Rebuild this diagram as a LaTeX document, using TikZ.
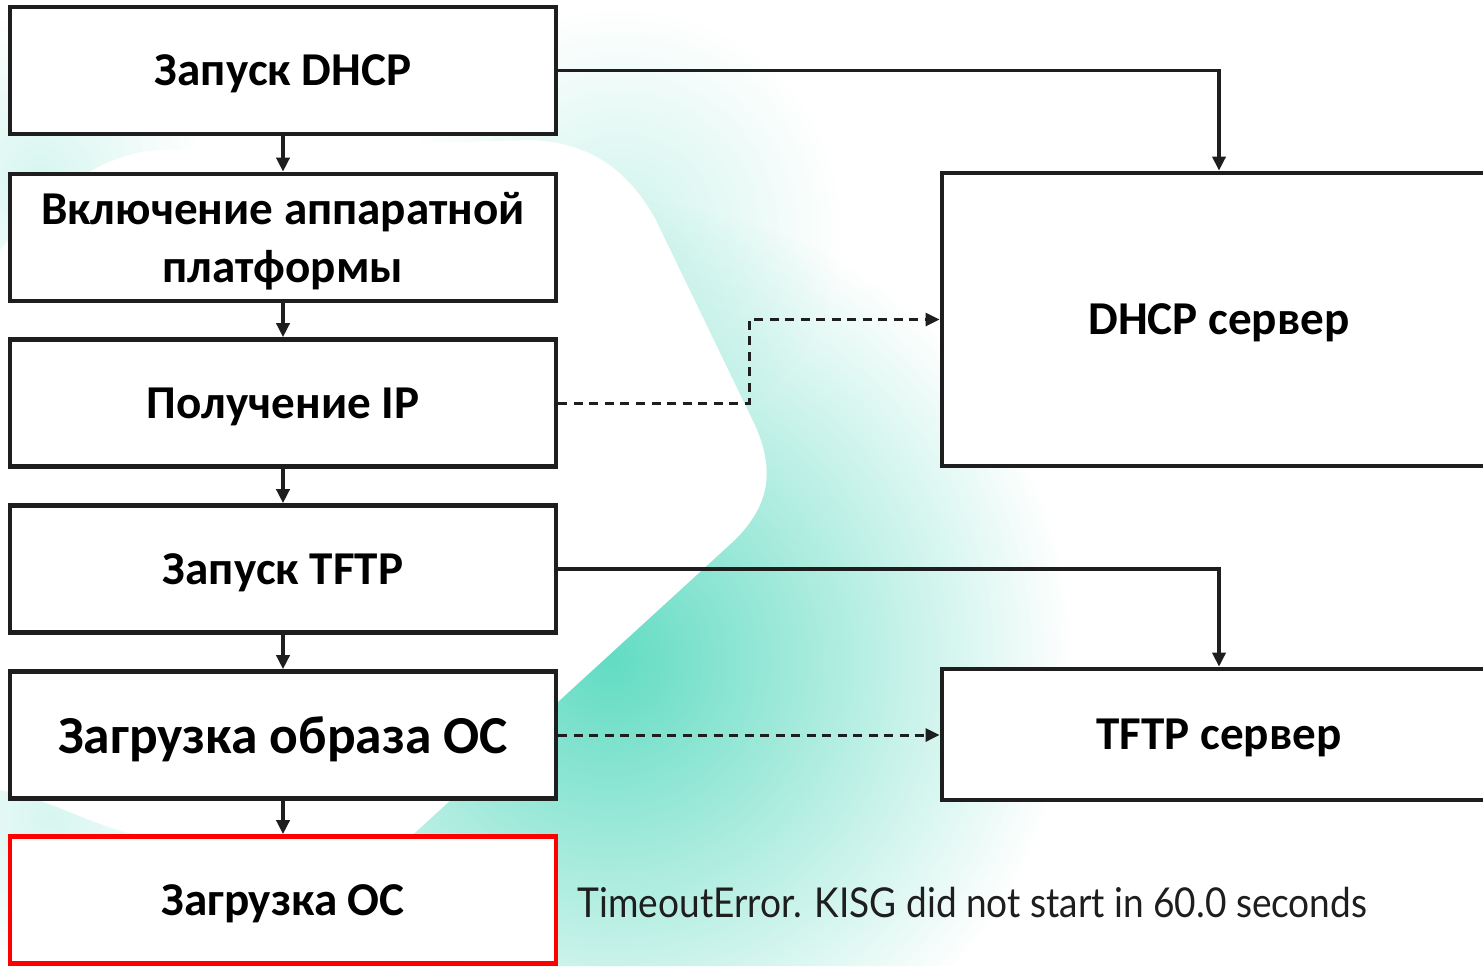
\documentclass[tikz,border=0pt]{standalone}
\usepackage{fontspec}
\setmainfont{Carlito}
\newfontfamily\errfont{Lato}[FakeStretch=0.9]
\usepackage{xcolor}
\usetikzlibrary{positioning, arrows.meta, fadings}

\definecolor{bgteal}{RGB}{98,220,195}
\definecolor{inkgray}{RGB}{30,30,30}
\tikzfading[name=blobfade, inner color=transparent!0, outer color=transparent!100]

\tikzset{
    stepbox/.style={draw=inkgray, fill=white, line width=1.3pt, minimum width=5.46cm,
        minimum height=1.27cm, inner sep=0pt, align=center, text=black, text depth=0pt,
        font=\bfseries\fontsize{13.4}{16.6}\selectfont},
    serverbox/.style={stepbox, minimum width=5.54cm},
    flowarrow/.style={draw=inkgray, line width=1pt, -{Triangle[length=0.14cm, width=0.13cm]}},
    dasharrow/.style={flowarrow, dash pattern=on 0.09cm off 0.065cm, line width=0.85pt}
}

\begin{document}
\begin{tikzpicture}[x=0.01cm, y=-0.01cm]
        \clip (0,0) rectangle (1483,966);
        \fill[white] (0,0) rectangle (1483,966);

        % teal backdrop outside the white swoosh
        \begin{scope}
            \clip (0,0) -- (1483,0) -- (1483,966) -- (0,966) -- (0,790)
                .. controls (60,800) and (110,840) .. (180,840) -- (405,842)
                -- (735,540) .. controls (770,505) and (775,470) .. (755,425)
                -- (655,218) .. controls (625,165) and (585,142) .. (530,140)
                -- (160,150) .. controls (100,152) and (40,200) .. (0,250) -- cycle;
            \fill[bgteal, path fading=blobfade] (610,660) circle (4.6cm);
            \fill[bgteal, path fading=blobfade, fill opacity=0.3] (620,230) circle (2.2cm);
            \fill[bgteal, path fading=blobfade, fill opacity=0.25] (40,175) circle (1.6cm);
            \fill[bgteal, path fading=blobfade, fill opacity=0.25] (50,815) circle (1.6cm);
        \end{scope}

        \node[stepbox] (dhcp) at (283,70.5) {Запуск DHCP};
        \node[stepbox] (hwon) at (283,237.5) {Включение аппаратной\\платформы};
        \node[stepbox] (getip) at (283,403) {Получение IP};
        \node[stepbox] (tftp) at (283,569) {Запуск TFTP};
        \node[stepbox, font=\bfseries\fontsize{15.2}{18}\selectfont] (loadimg) at (283,735) {Загрузка образа ОС};
        \node[stepbox, draw=red] (loados) at (283,900) {Загрузка ОС};

        \node[serverbox, minimum height=2.93cm] (dhcpsrv) at (1219,319.5) {DHCP сервер};
        \node[serverbox, minimum height=1.31cm] (tftpsrv) at (1219,734.5) {TFTP сервер};

        \node[anchor=west, inner sep=0pt, text=inkgray, font=\errfont\fontsize{11.7}{14}\selectfont]
            (errmsg) at (577,902) {TimeoutError. KISG did not start in 60.0 seconds};

        \coordinate (ipbend) at (749,403);

        \draw[flowarrow] (dhcp) to (hwon);
        \draw[flowarrow] (hwon) to (getip);
        \draw[flowarrow] (getip) to (tftp);
        \draw[flowarrow] (tftp) to (loadimg);
        \draw[flowarrow] (loadimg.south) to (loados.north);

        \draw[flowarrow] (dhcp.east) -| (dhcpsrv.north);
        \draw[flowarrow] (tftp.east) -| (tftpsrv.north);
        \draw[dasharrow] (getip.east) -- (ipbend) |- (dhcpsrv.west);
        \draw[dasharrow] (loadimg.east) -- (loadimg.east -| tftpsrv.west);
    \end{tikzpicture}
\end{document}
